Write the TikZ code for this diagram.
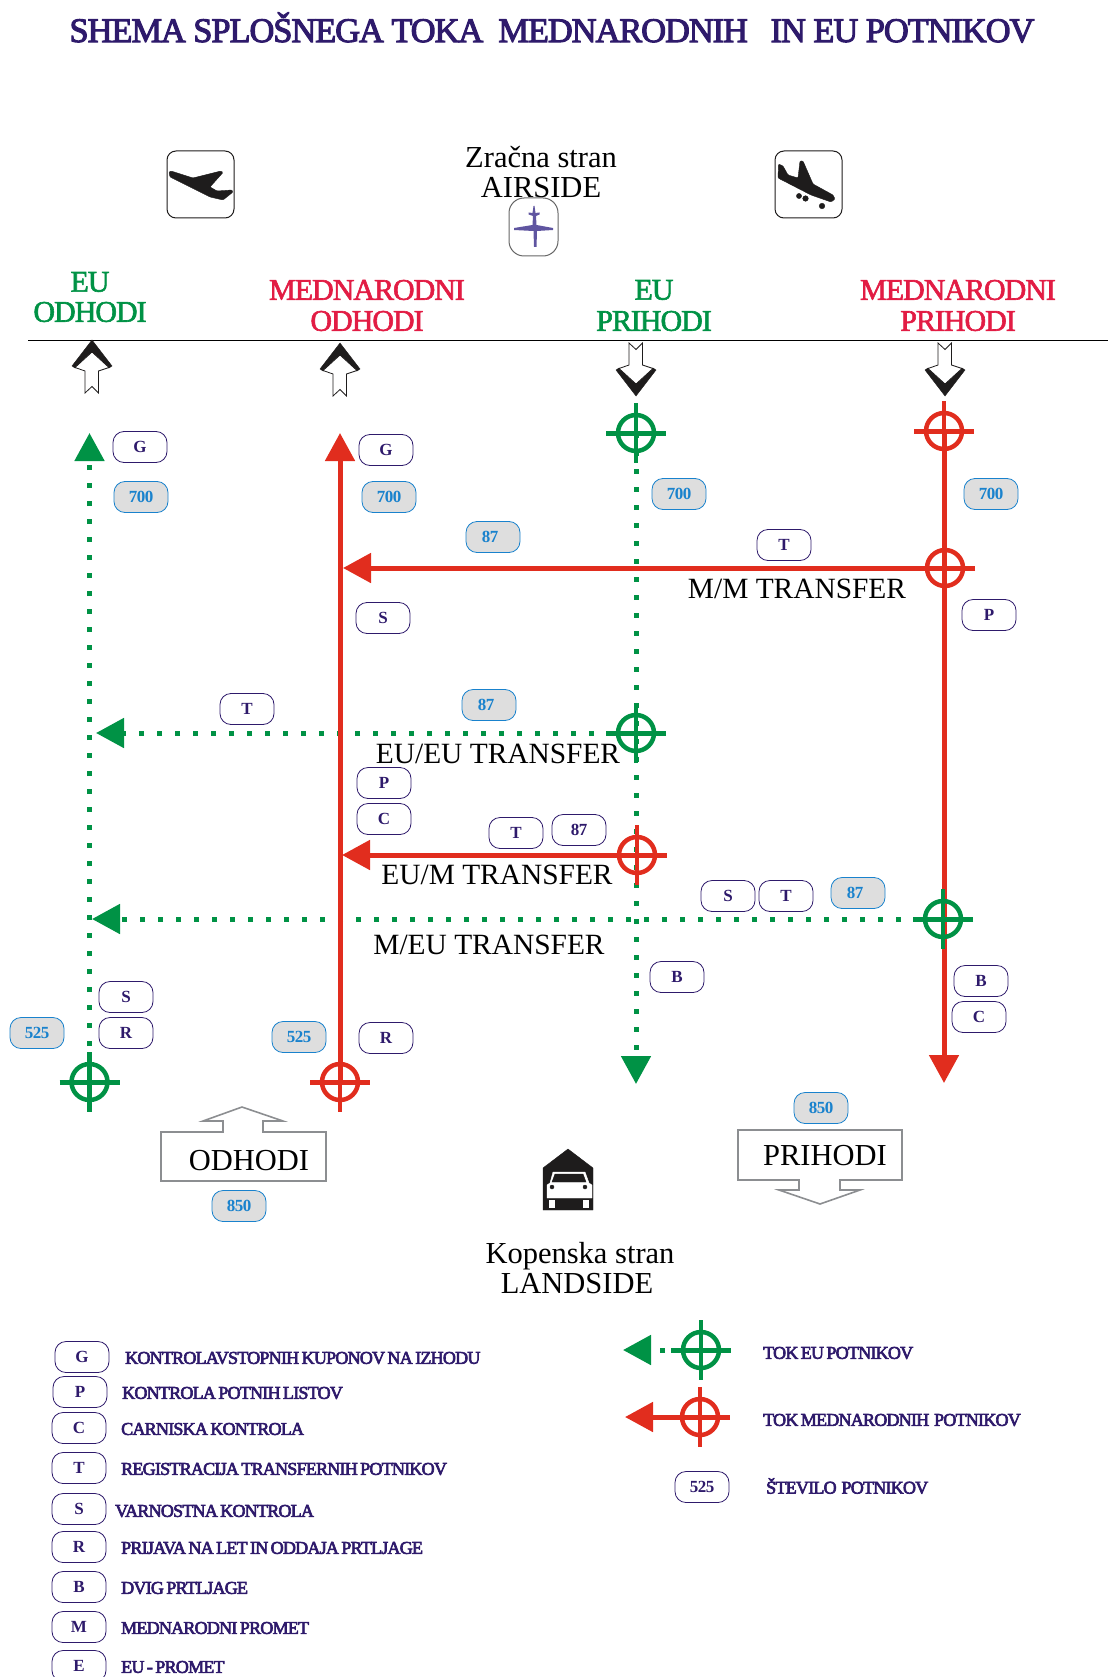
\documentclass[tikz,border=0pt]{standalone}
\usepackage{fontspec}
\setmainfont{Liberation Serif}
\newfontfamily\titlefont[FakeBold=3,LetterSpace=-3]{Liberation Serif}
\newfontfamily\heavyfont[FakeBold=2,LetterSpace=-3.4]{Liberation Serif}
\newfontfamily\legendfont[FakeBold=3.5,LetterSpace=-4.2,WordSpace=0.65]{Liberation Serif}
\newfontfamily\tagfont[LetterSpace=-3]{Liberation Serif Bold}
\usetikzlibrary{arrows.meta,calc}
\definecolor{Eu}{RGB}{0,146,69}
\definecolor{Mn}{RGB}{225,45,30}
\definecolor{MnHead}{RGB}{226,28,68}
\definecolor{Navy}{RGB}{46,26,107}
\definecolor{Sky}{RGB}{25,130,205}
\definecolor{Plate}{RGB}{222,222,222}
\definecolor{Frame}{RGB}{140,142,145}
\definecolor{Prop}{RGB}{95,85,160}
\definecolor{Ink}{RGB}{30,28,28}

\tikzset{
	tag/.style={draw=Navy,rounded corners=11pt,line width=0.8pt,minimum width=54pt,minimum height=31pt,inner sep=0pt,text=Navy,font=\tagfont\fontsize{17}{17}\selectfont},
	count/.style={tag,draw=Sky,fill=Plate,text=Sky},
	euflow/.style={Eu,line width=5pt,dash pattern=on 5pt off 13pt},
	mnflow/.style={Mn,line width=5pt},
	euhead/.style={-{Triangle[width=29pt,length=28pt]}},
	label/.style={inner sep=0pt,font=\fontsize{29.4}{29.4}\selectfont},
	sidetext/.style={inner sep=0pt,font=\fontsize{30.5}{30.5}\selectfont},
	column/.style={inner sep=0pt,font=\heavyfont\fontsize{30}{30}\selectfont},
	legend/.style={inner sep=0pt,anchor=west,text=Navy,font=\legendfont\fontsize{18}{18}\selectfont},
}

% hollow arrow with black chevron, (x,y) is the tip
\newcommand*{\blockArrow}[3]{%
	\begin{scope}[shift={(#1,#2)},yscale=#3]
		\filldraw[Ink,line width=0.4pt] (0,0)--(-20,26)--(-17,28)--(0,12)--(17,28)--(20,26)--cycle;
		\filldraw[fill=white,draw=Ink,line width=0.8pt] (0,12)--(-17,27.5)--(-7,31)--(-7,53)--(0,46.5)--(6.5,53)--(6.5,31)--(17,27.5)--cycle;
	\end{scope}}
\newcommand*{\crossHair}[2]{%
	\draw[#2,line width=4.5pt] (#1) circle (18);
	\draw[#2,line width=5pt] ($(#1)+(-30,0)$)--($(#1)+(30,0)$);
	\draw[#2,line width=4.5pt] ($(#1)+(0,-30)$)--($(#1)+(0,30)$);}

\begin{document}
\begin{tikzpicture}[x=1pt,y=-1pt]
\useasboundingbox (0,0) rectangle (1108,1677);
\clip (0,0) rectangle (1108,1677);

\node[inner sep=0pt,text=Navy,font=\titlefont\fontsize{34.4}{34.4}\selectfont] (title) at (552,27.5) {SHEMA SPLOŠNEGA TOKA~~MEDNARODNIH~~~IN EU POTNIKOV};

\node[sidetext] (air) at (541,157) {Zračna stran};
\node[sidetext] (airEn) at (541,188) {AIRSIDE};
\node[sidetext] (land) at (580,1256) {Kopenska stran};
\node[sidetext] (landEn) at (577,1284) {LANDSIDE};

% icons
\draw[Ink,line width=1pt,rounded corners=9pt] (167,151) rectangle (234,218);
\draw[Ink,line width=1pt,rounded corners=9pt] (775,151) rectangle (842,218);
\draw[black!60,line width=1pt,rounded corners=15pt] (509,198) rectangle (558,256);
\filldraw[Ink,rounded corners=1pt] (169,172)--(171,171)--(193,178)--(221,171)--(223,172.5)--(210,187)--(217,191)--(232,190)--(233,192)--(223,200)--(210,197)--(170,177)--cycle;
\filldraw[Ink,rounded corners=1pt] (778.5,164)--(783,166)--(788,175)--(798,178)--(800,161)--(803,161)--(813,184)--(833,195)--(835,199)--(831,202)--(811,195)--(778,178)--cycle;
\filldraw[Ink] (799,196) circle (2.6) (805.5,198.5) circle (2.8) (822,206) circle (2.8);
\filldraw[Prop,draw=none] (533.5,206)--(534.5,206)--(535.5,213)--(539.5,212.5)--(539.5,214.5)--(536,216)--(536.5,225)--(553,228)--(553,230)--(537,231)--(536.5,247)--(534,247)--(533.5,231)--(514,230)--(514,228)--(532.5,225)--(533,216)--(528.5,214.5)--(528.5,212.5)--(532.5,213)--cycle;

\draw[black,line width=0.8pt] (28,340.5)--(1108,340.5);

% columns
\node[column,text=Eu] (euOut) at (90,282) {EU};
\node[column,text=Eu] (euOutB) at (90,312) {ODHODI};
\node[column,text=MnHead] (mnOut) at (367,290) {MEDNARODNI};
\node[column,text=MnHead] (mnOutB) at (367,321) {ODHODI};
\node[column,text=Eu] (euIn) at (654,290) {EU};
\node[column,text=Eu] (euInB) at (654,321) {PRIHODI};
\node[column,text=MnHead] (mnIn) at (958,290) {MEDNARODNI};
\node[column,text=MnHead] (mnInB) at (958,321) {PRIHODI};

\blockArrow{92}{340}{1}
\blockArrow{340}{343}{1}
\blockArrow{636}{396}{-1}
\blockArrow{945}{396}{-1}

% ends of the flows
\coordinate (euOutTip) at (89.5,433);
\coordinate (euOutGate) at (89.5,1082);
\coordinate (mnOutTip) at (340,433);
\coordinate (mnOutGate) at (340,1082);
\coordinate (euInGate) at (636,433);
\coordinate (euInTip) at (636,1084);
\coordinate (mnInGate) at (944,431);
\coordinate (mnInTip) at (944,1083);
\coordinate (mmGate) at (945,568);
\coordinate (mmEnd) at (975,568);
\coordinate (mmTip) at (343,568);
\coordinate (eeGate) at (636,733);
\coordinate (eeEnd) at (666,733);
\coordinate (eeTip) at (96,733);
\coordinate (emGate) at (637,855);
\coordinate (emEnd) at (666,855);
\coordinate (emTip) at (342,855);
\coordinate (meGate) at (943,919);
\coordinate (meEnd) at (973,919);
\coordinate (meTip) at (92,919);

\draw[euflow,euhead] (euOutGate)--(euOutTip);
\draw[euflow,euhead] (euInGate)--(euInTip);
\draw[euflow,euhead] (eeEnd)--(eeTip);
\draw[euflow,euhead] (meEnd)--(meTip);
\draw[mnflow,euhead] (mnOutGate)--(mnOutTip);
\draw[mnflow,euhead] (mnInGate)--(mnInTip);
\draw[mnflow,euhead] (mmEnd)--(mmTip);
\draw[mnflow,euhead] (emEnd)--(emTip);

\crossHair{euInGate}{Eu}
\crossHair{mnInGate}{Mn}
\crossHair{mmGate}{Mn}
\crossHair{eeGate}{Eu}
\crossHair{emGate}{Mn}
\crossHair{meGate}{Eu}
\crossHair{euOutGate}{Eu}
\crossHair{mnOutGate}{Mn}

\node[label] (mmText) at (797,589) {M/M TRANSFER};
\node[label] (eeText) at (498,754) {EU/EU TRANSFER};
\node[label] (emText) at (497,875) {EU/M TRANSFER};
\node[label] (meText) at (489,945) {M/EU TRANSFER};

% control points
\foreach \px/\py/\txt/\nm in {140/447/G/gA,386/450/G/gB,784/545/T/tA,383/618/S/sA,989/615/P/pA,247/709/T/tB,384/783/P/pB,384/819/C/cA,516/833/T/tC,579/830/87/nA,728/896/S/sB,786/896/T/tD,677/977/B/bA,981/981/B/bB,979/1017/C/cB,126/997/S/sC,126/1033/R/rA,386/1038/R/rB}
	\node[tag] (\nm) at (\px,\py) {\txt};
% passenger counts
\foreach \px/\py/\txt/\nm in {141/497/700/kA,389/497/700/kB,679/494/700/kC,991/494/700/kD,493/537/87\kern6pt/kE,489/705/87\kern6pt/kF,858/893/87\kern6pt/kG,37/1033/525/kH,299/1037/525/kI,239/1206/850/kJ,821/1108/850/kK}
	\node[count] (\nm) at (\px,\py) {\txt};

% landside doors
\draw[Frame,line width=1.6pt] (161,1132)--(223,1132)--(223,1121)--(203,1121)--(242,1107)--(283,1121)--(263,1121)--(263,1132)--(326,1132)--(326,1181)--(161,1181)--cycle;
\draw[Frame,line width=1.6pt] (738,1130)--(902,1130)--(902,1180)--(840,1180)--(840,1190)--(860,1190)--(820,1204)--(779,1190)--(799,1190)--(799,1180)--(738,1180)--cycle;
\node[sidetext] (doorOut) at (249,1161) {ODHODI};
\node[sidetext] (doorIn) at (825,1156) {PRIHODI};

% car
\filldraw[Ink] (543,1168)--(568,1149)--(593,1168)--(593,1210)--(543,1210)--cycle;
\filldraw[white] (553,1172)--(585,1172)--(589,1183)--(592,1185)--(592,1198)--(547,1198)--(547,1185)--(550,1183)--cycle;
\filldraw[Ink] (555,1174)--(583,1174)--(586,1182)--(552,1182)--cycle;
\filldraw[Ink] (552,1187) circle (2) (585,1187) circle (2);
\filldraw[white] (549,1200) rectangle (554,1207) (583,1200) rectangle (588,1207);

% legend
\foreach \px/\py/\txt/\nm in {82/1357/G/lgG,80/1392/P/lgP,79/1428/C/lgC,79/1468/T/lgT,79/1509/S/lgS,79/1547/R/lgR,79/1587/B/lgB,79/1627/M/lgM,79/1666/E/lgE,702/1487/525/lgN}
	\node[tag] (\nm) at (\px,\py) {\txt};
\node[legend] (lgGt) at (125,1358) {KONTROLAVSTOPNIH KUPONOV NA IZHODU};
\node[legend] (lgPt) at (122,1393) {KONTROLA POTNIH LISTOV};
\node[legend] (lgCt) at (121,1429) {CARNISKA KONTROLA};
\node[legend] (lgTt) at (121,1469) {REGISTRACIJA TRANSFERNIH POTNIKOV};
\node[legend] (lgSt) at (115,1511) {VARNOSTNA KONTROLA};
\node[legend] (lgRt) at (121,1548) {PRIJAVA NA LET IN ODDAJA PRTLJAGE};
\node[legend] (lgBt) at (121,1588) {DVIG PRTLJAGE};
\node[legend] (lgMt) at (121,1628) {MEDNARODNI PROMET};
\node[legend] (lgEt) at (121,1667) {EU - PROMET};

\coordinate (keyEuGate) at (701,1350);
\coordinate (keyEuTip) at (623,1350);
\coordinate (keyMnGate) at (700,1417);
\coordinate (keyMnTip) at (625,1417);
\draw[euflow,euhead] (keyEuGate)--(keyEuTip);
\draw[mnflow,euhead] (keyMnGate)--(keyMnTip);
\crossHair{keyEuGate}{Eu}
\crossHair{keyMnGate}{Mn}
\node[legend] (keyEuText) at (763,1353) {TOK EU POTNIKOV};
\node[legend] (keyMnText) at (763,1420) {TOK MEDNARODNIH~~POTNIKOV};
\node[legend] (keyNText) at (766,1486) {ŠTEVILO~~POTNIKOV};
\end{tikzpicture}
\end{document}
